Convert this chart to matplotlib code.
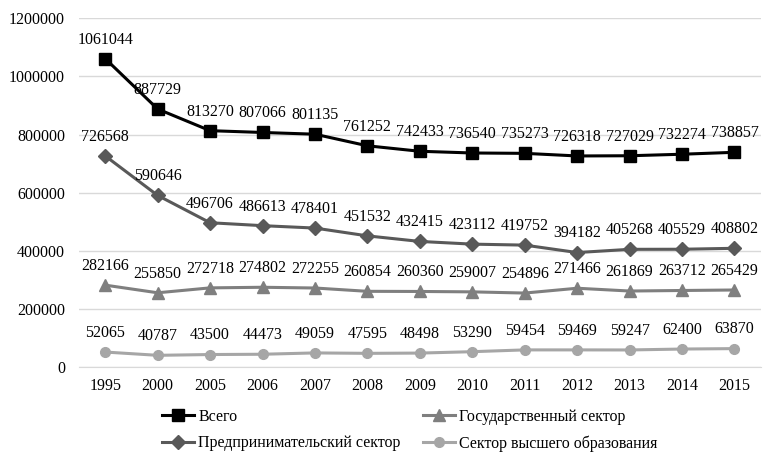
import matplotlib.pyplot as plt
import numpy as np

plt.rcParams['font.family'] = ['Liberation Serif', 'DejaVu Serif']

years = ['1995', '2000', '2005', '2006', '2007', '2008', '2009',
         '2010', '2011', '2012', '2013', '2014', '2015']
total = [1061044, 887729, 813270, 807066, 801135, 761252, 742433,
         736540, 735273, 726318, 727029, 732274, 738857]
business = [726568, 590646, 496706, 486613, 478401, 451532, 432415,
            423112, 419752, 394182, 405268, 405529, 408802]
government = [282166, 255850, 272718, 274802, 272255, 260854, 260360,
              259007, 254896, 271466, 261869, 263712, 265429]
higher_edu = [52065, 40787, 43500, 44473, 49059, 47595, 48498,
              53290, 59454, 59469, 59247, 62400, 63870]

names = ['Всего', 'Предпринимательский сектор',
         'Государственный сектор', 'Сектор высшего образования']
series = [total, business, government, higher_edu]
colors = ['#000000', '#595959', '#7f7f7f', '#a6a6a6']
markers = ['s', 'D', '^', 'o']
msizes = [8, 7, 8, 7]

fig = plt.figure(figsize=(7.63, 4.55), dpi=100)
ax = fig.add_axes([0.1035, 0.193, 0.8935, 0.767])

x = np.arange(len(years))
handles = []
for vals, name, c, m, ms in zip(series, names, colors, markers, msizes):
    h, = ax.plot(x, vals, color=c, marker=m, markersize=ms, linewidth=2.2, label=name)
    handles.append(h)
    # value labels above each point
    for xi, v in zip(x, vals):
        ax.annotate(str(v), (xi, v), xytext=(0, 8), textcoords='offset points',
                    ha='center', va='bottom', fontsize=11.5, color='black')

ax.set_xlim(-0.5, len(years) - 0.5)
ax.set_ylim(0, 1200000)
ax.set_yticks(np.arange(0, 1200001, 200000))
ax.set_yticklabels([str(v) for v in range(0, 1200001, 200000)])
ax.set_xticks(x)
ax.set_xticklabels(years)
ax.tick_params(axis='x', length=0, labelsize=11.5, pad=8)
ax.tick_params(axis='y', length=0, labelsize=11.5, pad=10)
ax.yaxis.grid(True, color='#d9d9d9', linewidth=1)
ax.set_axisbelow(True)
for s in ['top', 'right', 'left']:
    ax.spines[s].set_visible(False)
ax.spines['bottom'].set_color('#d9d9d9')

fig.legend(handles=handles, labels=names, ncol=2, loc='center',
           bbox_to_anchor=(0.537, 0.054), frameon=False, fontsize=11.5,
           handlelength=2.0, handletextpad=0.25, columnspacing=1.4,
           labelspacing=0.65, borderpad=0)

plt.savefig('out.png')
